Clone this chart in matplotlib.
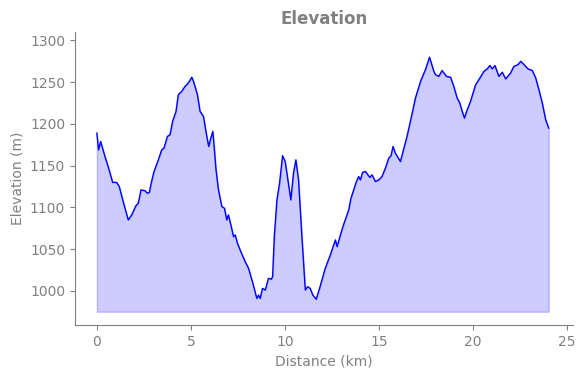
import matplotlib
matplotlib.use("Agg")
import matplotlib.pyplot as plt
import numpy as np

distance_km = [0.0, 0.09, 0.2, 0.3, 0.43, 0.6, 0.84, 1.05, 1.19, 1.4, 1.67, 1.85, 2.08, 2.2, 2.35,
               2.56, 2.68, 2.79, 2.91, 3.04, 3.27, 3.45, 3.57, 3.75, 3.89, 4.03, 4.21, 4.33, 4.51,
               4.69, 4.78, 4.92, 5.05, 5.14, 5.35, 5.49, 5.67, 5.85, 5.95, 6.06, 6.17, 6.24, 6.34,
               6.47, 6.65, 6.79, 6.91, 7.0, 7.13, 7.27, 7.36, 7.48, 7.66, 7.89, 8.07, 8.3, 8.51,
               8.6, 8.69, 8.81, 8.96, 9.13, 9.28, 9.35, 9.44, 9.58, 9.72, 9.88, 10.02, 10.32,
               10.46, 10.59, 10.73, 10.91, 11.09, 11.21, 11.35, 11.49, 11.67, 11.85, 12.15, 12.42,
               12.69, 12.78, 13.09, 13.4, 13.52, 13.81, 13.93, 14.02, 14.14, 14.29, 14.52, 14.64,
               14.82, 15.0, 15.17, 15.35, 15.53, 15.65, 15.76, 15.88, 16.15, 16.29, 16.5, 16.72,
               16.95, 17.22, 17.48, 17.7, 17.93, 18.02, 18.19, 18.37, 18.6, 18.82, 18.99, 19.17,
               19.31, 19.44, 19.56, 19.67, 19.88, 20.15, 20.38, 20.59, 20.77, 20.91, 21.04, 21.18,
               21.39, 21.57, 21.75, 22.01, 22.19, 22.4, 22.55, 22.69, 22.94, 23.17, 23.35, 23.52,
               23.7, 23.88, 24.04]
elevation_m = [1189, 1169, 1179, 1171, 1161, 1149, 1130, 1130, 1125, 1107, 1085, 1091, 1102, 1105, 1121,
               1120, 1117, 1118, 1131, 1143, 1157, 1169, 1171, 1185, 1187, 1203, 1215, 1235, 1239,
               1245, 1247, 1251, 1256, 1251, 1235, 1215, 1209, 1185, 1173, 1183, 1191, 1173, 1145,
               1121, 1101, 1099, 1085, 1091, 1079, 1065, 1067, 1057, 1047, 1035, 1027, 1009, 991,
               995, 991, 1003, 1001, 1015, 1014, 1017, 1065, 1109, 1129, 1162, 1155, 1109,
               1141, 1157, 1133, 1065, 1001, 1005, 1003, 995, 990, 1003, 1027, 1043,
               1061, 1053, 1077, 1097, 1111, 1131, 1137, 1133, 1142, 1143, 1136, 1139,
               1131, 1133, 1137, 1147, 1159, 1162, 1173, 1165, 1155, 1167, 1185, 1207,
               1231, 1251, 1265, 1280, 1263, 1259, 1257, 1264, 1257, 1256, 1245, 1231,
               1225, 1215, 1207, 1215, 1227, 1247, 1255, 1263, 1266, 1270, 1266, 1270,
               1257, 1262, 1254, 1261, 1269, 1271, 1275, 1272, 1266, 1264, 1255, 1241,
               1225, 1205, 1195]

x_ticks = [0, 5, 10, 15, 20, 25]
y_ticks = [1000, 1050, 1100, 1150, 1200, 1250, 1300]
fill_base = 975

gray = "#808080"
fig = plt.figure(figsize=(5.85, 3.78), dpi=100)
ax = fig.add_axes([0.128, 0.140, 0.852, 0.775])

ax.fill_between(distance_km, elevation_m, fill_base, color="blue", alpha=0.2)
ax.plot(distance_km, elevation_m, color="blue", linewidth=1.0)

ax.set_xlim(-1.17, 25.35)
ax.set_ylim(959, 1310)
ax.set_xticks(x_ticks)
ax.set_yticks(y_ticks)

for s in ["top", "right"]:
    ax.spines[s].set_visible(False)
for s in ["left", "bottom"]:
    ax.spines[s].set_color(gray)
ax.tick_params(colors=gray, labelcolor=gray)
ax.set_xlabel("Distance (km)", color=gray)
ax.set_ylabel("Elevation (m)", color=gray)
ax.set_title("Elevation", color=gray, fontweight="bold", fontsize=12)

fig.savefig("out.png", dpi=100)
